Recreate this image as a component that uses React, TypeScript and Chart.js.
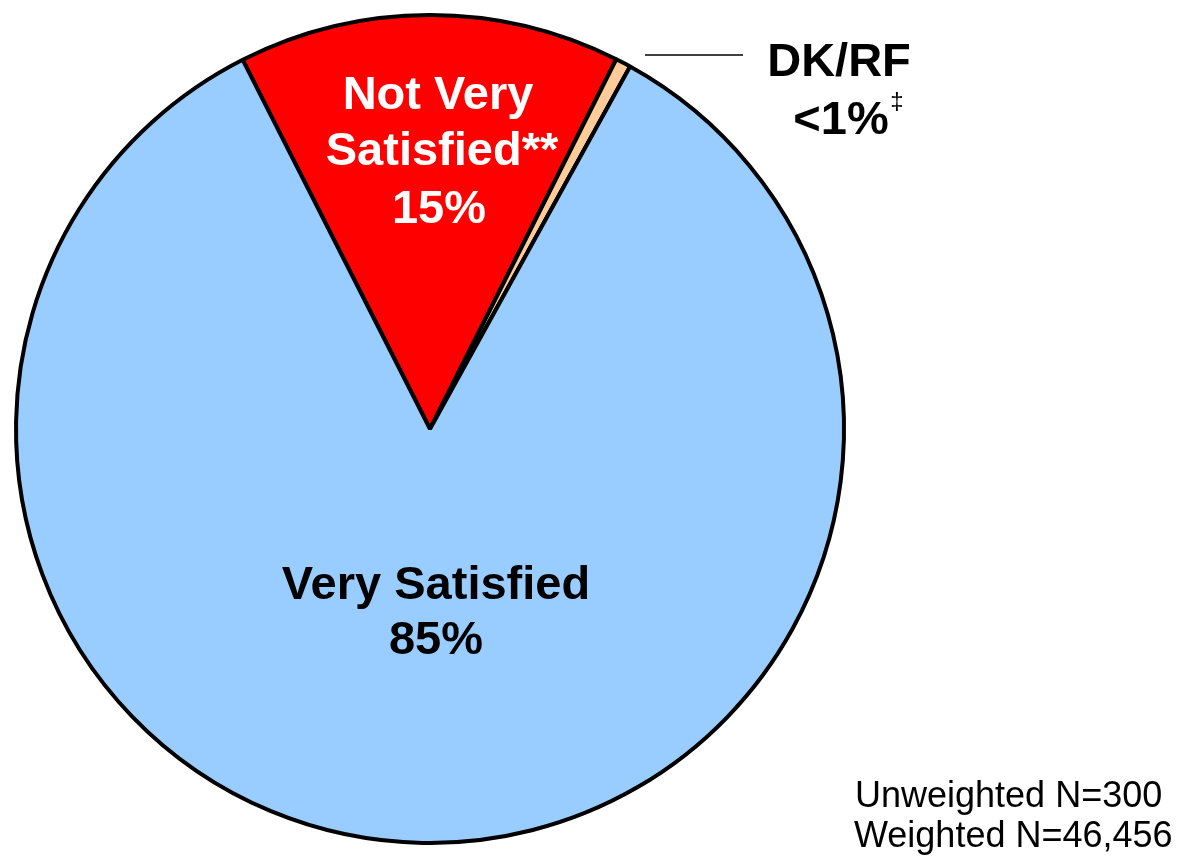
import React, { useEffect, useRef } from "react";
import { Chart, registerables } from "chart.js";

Chart.register(...registerables);

const categories = ["Not Very Satisfied", "DK/RF", "Very Satisfied"];
const shares = [14.9, 0.6, 84.5];
const sliceColors = ["#FF0000", "#FFCC99", "#99CCFF"];
const footnotes = ["Unweighted N=300", "Weighted N=46,456"];

const FONT = "'Liberation Sans', Arial, Helvetica, sans-serif";

const labelPlugin = {
  id: "sliceLabels",
  afterDatasetsDraw(chart: any) {
    const ctx = chart.ctx;
    const arc = chart.getDatasetMeta(0).data[0];
    const cx = arc.x;
    const cy = arc.y;
    ctx.save();
    ctx.textAlign = "center";
    ctx.textBaseline = "middle";
    ctx.font = `bold 47px ${FONT}`;
    // Not Very Satisfied
    ctx.fillStyle = "#FFFFFF";
    ctx.fillText("Not Very", cx + 8, cy - 333);
    ctx.fillText("Satisfied**", cx + 12, cy - 277);
    ctx.fillText(`${Math.round(shares[0])}%`, cx + 9, cy - 219);
    // Very Satisfied
    ctx.fillStyle = "#000000";
    ctx.fillText(categories[2], cx + 6, cy + 157);
    ctx.fillText(`${Math.round(shares[2])}%`, cx + 6, cy + 212);
    // DK/RF
    ctx.fillText(categories[1], cx + 409, cy - 366);
    ctx.fillText("<1%", cx + 411, cy - 308);
    ctx.font = `24px ${FONT}`;
    ctx.fillText("‡", cx + 467, cy - 327);
    // leader line
    ctx.strokeStyle = "#000000";
    ctx.lineWidth = 1.5;
    ctx.beginPath();
    ctx.moveTo(cx + 215, cy - 374);
    ctx.lineTo(cx + 313, cy - 374);
    ctx.stroke();
    // footnotes
    ctx.textAlign = "left";
    ctx.textBaseline = "alphabetic";
    ctx.font = `36px ${FONT}`;
    ctx.fillText(footnotes[0], 855, 807);
    ctx.fillText(footnotes[1], 854, 847);
    ctx.restore();
  },
};

export default function App() {
  const ref = useRef<HTMLCanvasElement | null>(null);
  useEffect(() => {
    if (!ref.current) return;
    const chart = new Chart(ref.current, {
      type: "pie",
      data: {
        labels: categories,
        datasets: [
          {
            data: shares,
            backgroundColor: sliceColors,
            borderColor: "#000000",
            borderWidth: 4,
            radius: 414,
          } as any,
        ],
      },
      options: {
        responsive: false,
        animation: false,
        rotation: -26.9,
        layout: { padding: { left: 0, top: 0, right: 326, bottom: 2 } },
        plugins: {
          legend: { display: false },
          tooltip: { enabled: false },
          title: { display: false },
        },
      },
      plugins: [labelPlugin],
    });
    return () => chart.destroy();
  }, []);
  return (
    <div style={{ position: "absolute", left: 0, top: 0, width: 1186, height: 860, background: "#FFFFFF" }}>
      <canvas ref={ref} width={1186} height={860} style={{ width: 1186, height: 860 }} />
    </div>
  );
}
